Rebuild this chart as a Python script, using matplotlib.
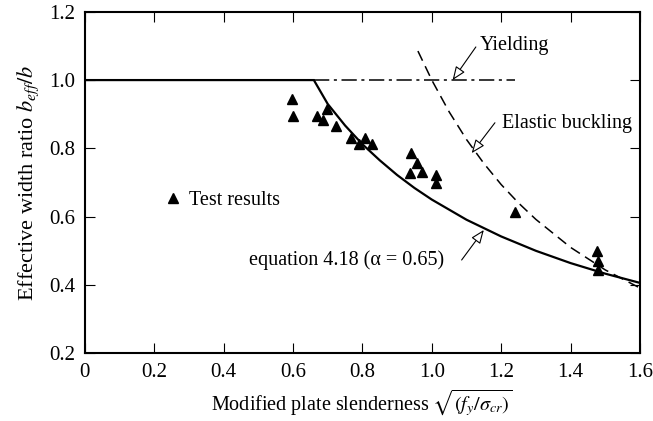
import numpy as np
import matplotlib
matplotlib.use('Agg')
import matplotlib.pyplot as plt

plt.rcParams['font.family'] = ['Liberation Serif', 'DejaVu Serif']
plt.rcParams['mathtext.fontset'] = 'stix'

# equation 4.18 (alpha = 0.65)
design_x = [0.0, 0.66, 0.70, 0.75, 0.80, 0.85, 0.90, 0.95, 1.00, 1.10, 1.20, 1.30, 1.40, 1.50, 1.60]
design_y = [1.0, 1.0, 0.93, 0.867, 0.812, 0.765, 0.722, 0.684, 0.650, 0.591, 0.542, 0.500, 0.464, 0.433, 0.406]

# elastic buckling curve
elastic_x = [0.96, 1.00, 1.05, 1.10, 1.15, 1.20, 1.25, 1.30, 1.40, 1.50, 1.60]
elastic_y = [1.085, 1.0, 0.907, 0.826, 0.756, 0.694, 0.640, 0.592, 0.510, 0.444, 0.391]

# yielding line
yield_x = [0.66, 1.24]
yield_y = [1.0, 1.0]

# test results
test_x = [0.596, 0.600, 0.670, 0.685, 0.698, 0.723, 0.767, 0.790, 0.808, 0.829,
          0.941, 0.956, 0.937, 0.973, 1.013, 1.013, 1.239, 1.475, 1.480, 1.480]
test_y = [0.944, 0.896, 0.896, 0.883, 0.914, 0.865, 0.831, 0.813, 0.831, 0.813,
          0.785, 0.756, 0.729, 0.732, 0.722, 0.700, 0.613, 0.500, 0.471, 0.444]

x_ticks = [0, 0.2, 0.4, 0.6, 0.8, 1.0, 1.2, 1.4, 1.6]
x_tick_labels = ['0', '0.2', '0.4', '0.6', '0.8', '1.0', '1.2', '1.4', '1.6']
y_ticks = [0.2, 0.4, 0.6, 0.8, 1.0, 1.2]
y_tick_labels = ['0.2', '0.4', '0.6', '0.8', '1.0', '1.2']

fig = plt.figure(figsize=(6.53, 4.21), dpi=100)
ax = fig.add_axes([0.130, 0.161, 0.850, 0.811])

ax.plot(design_x, design_y, color='black', lw=1.6, solid_joinstyle='miter')
ax.plot(elastic_x, elastic_y, color='black', lw=1.1, dashes=(7, 4))
ax.plot(yield_x, yield_y, color='black', lw=1.1, dashes=(10, 3, 2, 3))
ax.plot(test_x, test_y, '^', color='black', ms=6.5, ls='none', label='Test results')

ax.set_xlim(0, 1.6)
ax.set_ylim(0.2, 1.2)
ax.set_xticks(x_ticks)
ax.set_xticklabels(x_tick_labels)
ax.set_yticks(y_ticks)
ax.set_yticklabels(y_tick_labels)
ax.tick_params(direction='in', length=7, width=0.8, top=True, right=True,
               labelsize=15, pad=7)
for s in ax.spines.values():
    s.set_linewidth(1.5)

ax.set_xlabel(r'Modified plate slenderness $\sqrt{(f_y/\sigma_{cr})}$', fontsize=14.5, labelpad=4)
ax.set_ylabel(r'Effective width ratio $b_{eff}/b$', fontsize=16, labelpad=6)

ax.legend(loc='center left', bbox_to_anchor=(0.14, 0.448), frameon=False,
          numpoints=1, handlelength=1.0, handletextpad=0.3, borderpad=0,
          borderaxespad=0, fontsize=14.5)

arrow = dict(arrowstyle='-|>,head_length=0.55,head_width=0.22', fc='white', ec='black',
             lw=0.8, shrinkA=0, shrinkB=0, mutation_scale=15)

ax.annotate('', xy=(1.06, 1.0), xytext=(1.127, 1.097), arrowprops=arrow)
ax.text(1.138, 1.10, 'Yielding', fontsize=14.5, ha='left', va='center')

ax.annotate('', xy=(1.115, 0.786), xytext=(1.182, 0.875), arrowprops=arrow)
ax.text(1.202, 0.874, 'Elastic buckling', fontsize=14.5, ha='left', va='center')

ax.annotate('', xy=(1.15, 0.561), xytext=(1.086, 0.473), arrowprops=arrow)
ax.text(1.035, 0.473, 'equation 4.18 (α = 0.65)', fontsize=14.5, ha='right', va='center')

fig.savefig('out.png', dpi=100)
